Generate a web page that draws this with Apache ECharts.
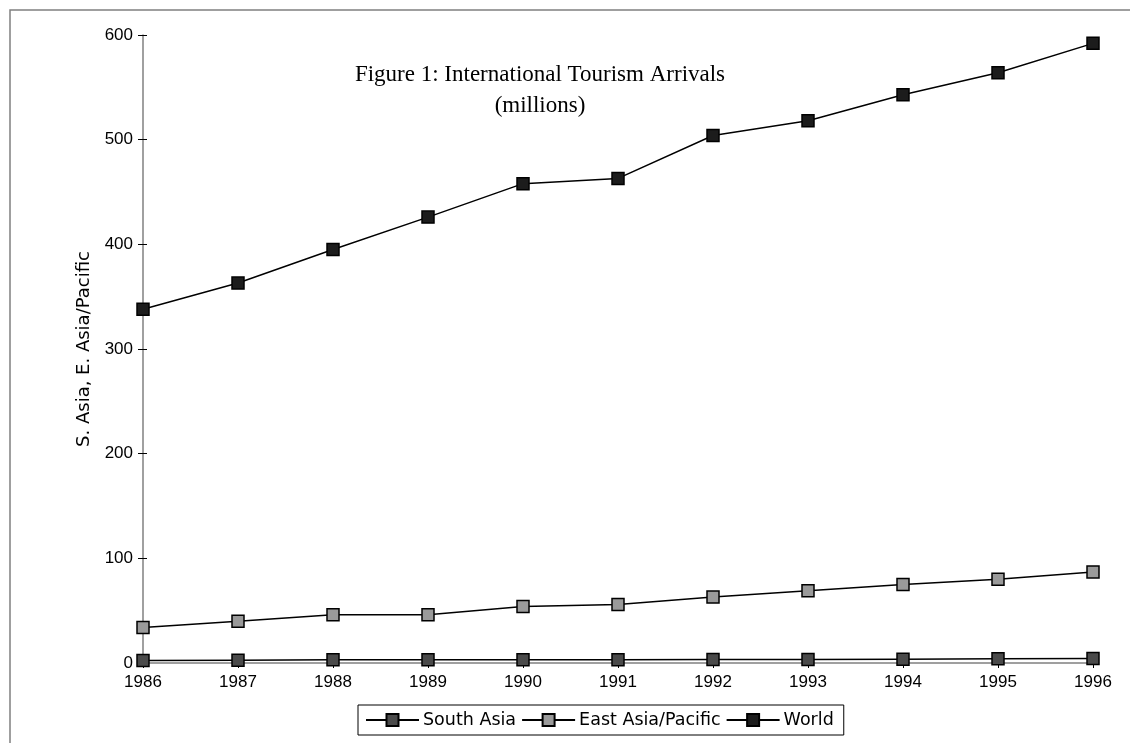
<!DOCTYPE html>
<html>
<head>
<meta charset="utf-8">
<script src="https://cdn.jsdelivr.net/npm/echarts@6/dist/echarts.min.js"></script>
<style>
html,body{margin:0;padding:0;background:#fff;}
#main{width:1130px;height:743px;}
</style>
</head>
<body>
<div id="main"></div>
<script>
const years = ['1986','1987','1988','1989','1990','1991','1992','1993','1994','1995','1996'];
const southAsia = [2.5, 2.7, 3.0, 3.2, 3.2, 3.0, 3.4, 3.3, 3.7, 4.0, 4.4];
const eastAsiaPacific = [34, 40, 46, 46, 54, 56, 63, 69, 75, 80, 87];
const world = [338, 363, 395, 426, 458, 463, 504, 518, 543, 564, 592];
const yTicks = [0, 100, 200, 300, 400, 500, 600];

const chart = echarts.init(document.getElementById('main'));
const labelFont = {fontFamily: '"Liberation Sans", Arial, sans-serif', fontSize: 17, color: '#000'};

function mkSeries(name, data, fill) {
  return {
    name: name, type: 'line', data: data,
    symbol: 'rect', symbolSize: 12,
    lineStyle: {color: '#000', width: 1.5},
    itemStyle: {color: fill, borderColor: '#000', borderWidth: 1.5},
    emphasis: {disabled: true},
    animation: false, z: 5
  };
}

chart.setOption({
  animation: false,
  backgroundColor: '#fff',
  title: {
    text: 'Figure 1: International Tourism Arrivals\n(millions)',
    left: 535, top: 54, textAlign: 'center',
    textStyle: {fontFamily: '"Liberation Serif", "Times New Roman", serif', fontSize: 23, fontWeight: 'normal', color: '#000', lineHeight: 31}
  },
  graphic: [{
    type: 'rect', shape: {x: 10, y: 10, width: 1140, height: 760},
    style: {fill: 'none', stroke: '#808080', lineWidth: 1.5}, silent: true
  }],
  legend: {
    left: 358, top: 705,
    orient: 'horizontal',
    itemWidth: 53, itemHeight: 15, itemGap: 5,
    borderColor: '#000', borderWidth: 1, padding: [6, 10, 6, 7],
    textStyle: {fontFamily: '"DejaVu Sans", sans-serif', fontSize: 17.5, color: '#000', padding: [0, 0, 0, -1]},
    data: ['South Asia', 'East Asia/Pacific', 'World']
  },
  grid: {left: 143, right: 37, top: 35, bottom: 80},
  xAxis: {
    type: 'category', data: years, boundaryGap: false,
    axisLine: {lineStyle: {color: '#808080', width: 1.5}},
    axisTick: {show: true, alignWithLabel: true, length: 5, lineStyle: {color: '#000'}},
    axisLabel: Object.assign({margin: 11}, labelFont),
    splitLine: {show: false}
  },
  yAxis: [{
    type: 'value', min: yTicks[0], max: yTicks[yTicks.length - 1], interval: 100,
    name: 'S. Asia, E. Asia/Pacific', nameLocation: 'middle', nameGap: 48, nameRotate: 90,
    nameTextStyle: {fontFamily: '"DejaVu Sans", sans-serif', fontSize: 18, color: '#000'},
    axisLine: {show: true, lineStyle: {color: '#808080', width: 1.5}},
    axisTick: {show: true, length: 5, lineStyle: {color: '#000'}},
    axisLabel: Object.assign({margin: 10}, labelFont),
    splitLine: {show: false}
  }, {
    type: 'value', min: yTicks[0], max: yTicks[yTicks.length - 1], interval: 100,
    position: 'left', offset: 0,
    axisLine: {show: false},
    axisTick: {show: true, inside: true, length: 4, lineStyle: {color: '#000'}},
    axisLabel: {show: false},
    splitLine: {show: false}
  }],
  series: [
    mkSeries('South Asia', southAsia, '#4a4a4a'),
    mkSeries('East Asia/Pacific', eastAsiaPacific, '#9a9a9a'),
    mkSeries('World', world, '#1c1c1c')
  ]
});
</script>
</body>
</html>
